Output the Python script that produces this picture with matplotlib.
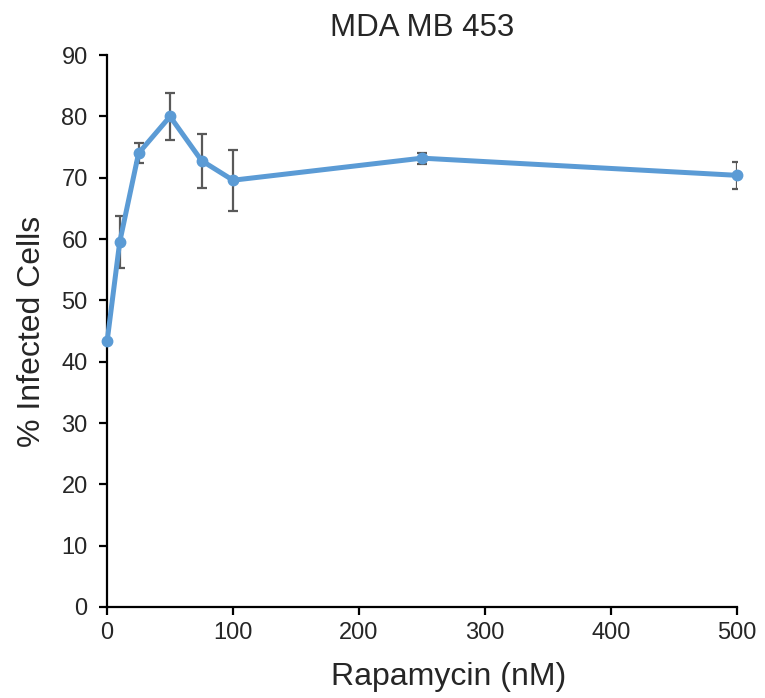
import matplotlib
matplotlib.use("Agg")
import matplotlib.pyplot as plt

plt.rcParams['font.family'] = ['Liberation Sans', 'DejaVu Sans']

concentration = [0, 10, 25, 50, 75, 100, 250, 500]
infected = [43.3, 59.5, 74.0, 80.0, 72.8, 69.6, 73.2, 70.4]
error = [0.0, 4.2, 1.6, 3.8, 4.4, 5.0, 0.9, 2.2]
yticks = [0, 10, 20, 30, 40, 50, 60, 70, 80, 90]
xticks = [0, 100, 200, 300, 400, 500]

fig = plt.figure(figsize=(7.65, 6.98), dpi=100)
ax = fig.add_axes([0.14, 0.1304, 0.823, 0.7906])

ax.errorbar(concentration, infected, yerr=error, fmt='none', ecolor='#595959',
            elinewidth=1.6, capsize=3.8, capthick=1.6, zorder=2)
ax.plot(concentration, infected, color='#5B9BD5', lw=3.6, marker='o',
        markersize=7.5, zorder=3, clip_on=False)

ax.set_xlim(0, 500)
ax.set_ylim(0, 90)
ax.set_xticks(xticks)
ax.set_yticks(yticks)
for s in ['top', 'right']:
    ax.spines[s].set_visible(False)
for s in ['left', 'bottom']:
    ax.spines[s].set_linewidth(1.6)
ax.tick_params(axis='both', direction='out', length=6, width=1.6, labelsize=17,
               color='black', labelcolor='#262626')
ax.tick_params(axis='y', pad=8)
ax.tick_params(axis='x', pad=5)

ax.set_title('MDA MB 453', fontsize=22.5, color='#262626', pad=14)
ax.set_xlabel('Rapamycin (nM)', fontsize=23, color='#262626')
ax.xaxis.set_label_coords(0.543, -0.1)
ax.xaxis.label.set_va('top')
ax.set_ylabel('% Infected Cells', fontsize=23, color='#262626', labelpad=10)

fig.savefig('out.png', dpi=100)
